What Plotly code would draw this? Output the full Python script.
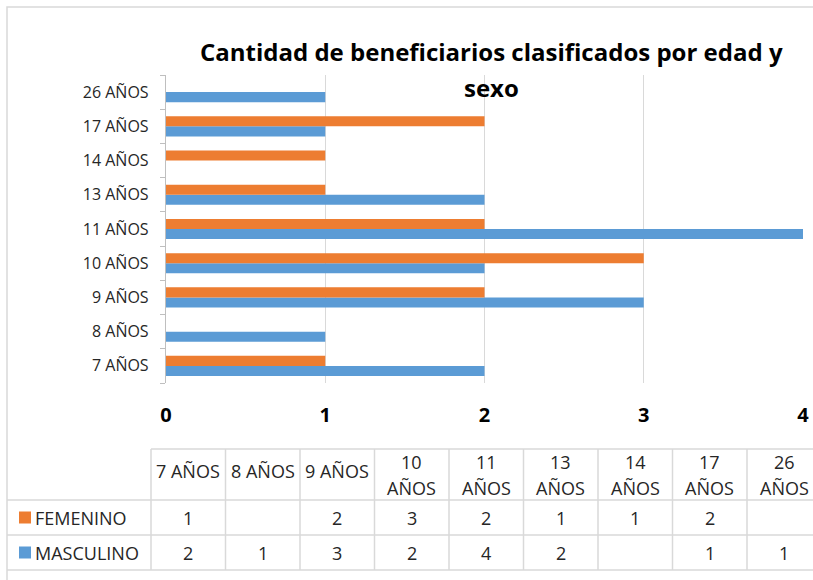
import plotly.graph_objects as go

categories = ["7 AÑOS", "8 AÑOS", "9 AÑOS", "10 AÑOS", "11 AÑOS", "13 AÑOS", "14 AÑOS", "17 AÑOS", "26 AÑOS"]
femenino = [1, None, 2, 3, 2, 1, 1, 2, None]
masculino = [2, 1, 3, 2, 4, 2, None, 1, 1]
x_ticks = [0, 1, 2, 3, 4]
title_lines = ["Cantidad de beneficiarios clasificados por edad y", "sexo"]
series_names = ["FEMENINO", "MASCULINO"]

ORANGE = "#ED7D31"
BLUE = "#5B9BD5"
GRID = "#D9D9D9"
TXT = "#262626"
FONT = "Open Sans"

W, H = 813, 580
def px(x):
    return x / W
def py(y):
    return 1 - y / H

fig = go.Figure()
fig.add_trace(go.Bar(y=categories, x=masculino, orientation="h", name=series_names[1],
                     marker=dict(color=BLUE, line=dict(width=0))))
fig.add_trace(go.Bar(y=categories, x=femenino, orientation="h", name=series_names[0],
                     marker=dict(color=ORANGE, line=dict(width=0))))

shapes = []
annotations = []

# chart frame
shapes.append(dict(type="rect", xref="paper", yref="paper", x0=px(7), x1=px(840), y0=py(7), y1=py(620),
                   line=dict(color=GRID, width=1.5), fillcolor="rgba(0,0,0,0)", layer="below"))

# title
for line, yy in zip(title_lines, [52, 87]):
    annotations.append(dict(text=line, x=px(491), y=py(yy), xref="paper", yref="paper", showarrow=False,
                            xanchor="center", yanchor="middle",
                            font=dict(family=FONT, size=24, color="#000000", weight="bold")))

# data table
col0, colw = 151, 74.5
ncol = len(categories)
row_f = (500, 535)
row_m = (535, 570)
right = col0 + colw * ncol
line_style = dict(color=GRID, width=1.5)
shapes.append(dict(type="line", xref="paper", yref="paper", x0=px(col0), x1=px(right), y0=py(449), y1=py(449), line=line_style))
for yy in [500, 535, 570]:
    shapes.append(dict(type="line", xref="paper", yref="paper", x0=px(7), x1=px(right), y0=py(yy), y1=py(yy), line=line_style))
for i in range(ncol + 1):
    xx = col0 + colw * i
    shapes.append(dict(type="line", xref="paper", yref="paper", x0=px(xx), x1=px(xx), y0=py(449), y1=py(570), line=line_style))

cell_font = dict(family=FONT, size=18, color=TXT)
for i, cat in enumerate(categories):
    cx = col0 + colw * (i + 0.5)
    if len(cat) > 6:
        parts = cat.split(" ")
        for part, yy in zip(parts, [462, 488]):
            annotations.append(dict(text=part, x=px(cx), y=py(yy), xref="paper", yref="paper", showarrow=False,
                                    xanchor="center", yanchor="middle", font=cell_font))
    else:
        annotations.append(dict(text=cat, x=px(cx), y=py(471), xref="paper", yref="paper", showarrow=False,
                                xanchor="center", yanchor="middle", font=cell_font))
    for vals, row in [(femenino, row_f), (masculino, row_m)]:
        v = vals[i]
        if v is not None:
            annotations.append(dict(text=str(v), x=px(cx), y=py((row[0] + row[1]) / 2), xref="paper", yref="paper",
                                    showarrow=False, xanchor="center", yanchor="middle", font=cell_font))

for name, color, row in [(series_names[0], ORANGE, row_f), (series_names[1], BLUE, row_m)]:
    cy = (row[0] + row[1]) / 2
    shapes.append(dict(type="rect", xref="paper", yref="paper", x0=px(19), x1=px(31), y0=py(cy - 6), y1=py(cy + 6),
                       fillcolor=color, line=dict(width=0)))
    annotations.append(dict(text=name, x=px(33), y=py(cy), xref="paper", yref="paper", showarrow=False,
                            xanchor="left", yanchor="middle", font=cell_font))

fig.update_layout(
    width=W, height=H,
    margin=dict(l=0, r=0, t=0, b=0, autoexpand=False),
    paper_bgcolor="white", plot_bgcolor="white",
    barmode="group", bargap=0.41, bargroupgap=0,
    showlegend=False,
    shapes=shapes, annotations=annotations,
    xaxis=dict(domain=[px(166), px(803)], range=[0, 4], tickvals=x_ticks, showgrid=True, gridcolor=GRID,
               gridwidth=1.3, zeroline=False, showline=False, ticks="", ticklabelstandoff=18,
               automargin=False, ticklabeloverflow="allow",
               tickfont=dict(family=FONT, size=20, color="#000000", weight="bold"), fixedrange=True),
    yaxis=dict(domain=[py(383), py(75)], categoryorder="array", categoryarray=categories,
               showline=True, linecolor="#BFBFBF", linewidth=1.3, ticks="outside", tickson="boundaries",
               ticklen=5, tickcolor="#BFBFBF", showgrid=False, ticklabelstandoff=13, automargin=False,
               tickfont=dict(family=FONT, size=16, color=TXT), fixedrange=True),
)

fig.write_html("out.html", config={"displayModeBar": False},
               post_script="document.body.style.margin='0px';")
